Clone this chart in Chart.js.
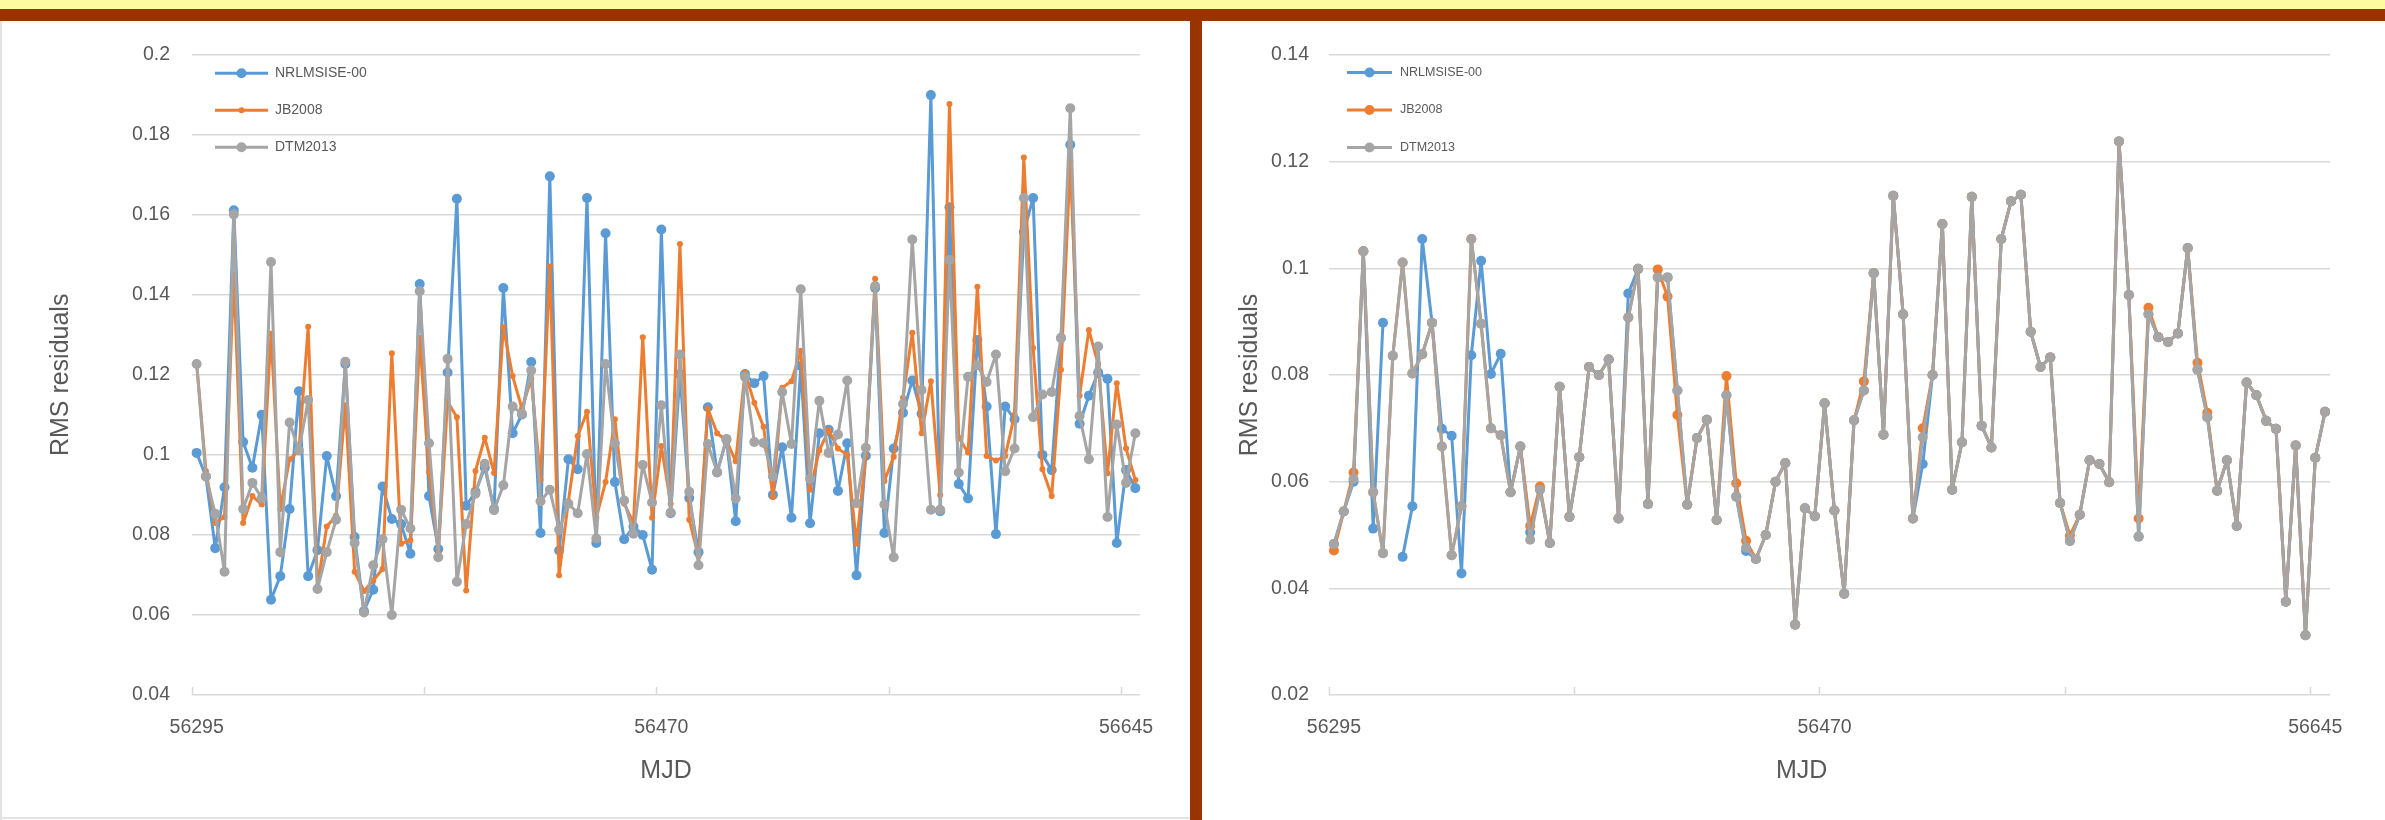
<!DOCTYPE html>
<html>
<head>
<meta charset="utf-8">
<title>RMS residuals vs MJD</title>
<script src="https://cdn.jsdelivr.net/npm/chart.js"></script>
<style>
  html, body { margin: 0; padding: 0; }
  body { width: 2385px; height: 820px; position: relative; overflow: hidden; background: #fff; }
  #topband { position: absolute; left: 0; top: 0; width: 2385px; height: 9px; background: #fdfc9f; }
  #brownbar { position: absolute; left: 0; top: 9px; width: 2385px; height: 12px; background: #993300; }
  #divider { position: absolute; left: 1190px; top: 9px; width: 12px; height: 811px; background: #993300; }
  .panel { position: absolute; top: 21px; height: 799px; }
  #leftPanel { left: 0; width: 1190px; }
  #rightPanel { left: 1202px; width: 1183px; }
  #leftEdge { position: absolute; left: 0; top: 21px; width: 2px; height: 799px; background: #e3e3e3; }
  #bottomEdge { position: absolute; left: 0; top: 817px; width: 1190px; height: 2px; background: #e3e3e3; }
</style>
</head>
<body>
<div id="topband"></div>
<div id="brownbar"></div>
<div id="divider"></div>
<div class="panel" id="leftPanel"><canvas id="leftChart" width="1190" height="799"></canvas></div>
<div class="panel" id="rightPanel"><canvas id="rightChart" width="1183" height="799"></canvas></div>
<div id="leftEdge"></div>
<div id="bottomEdge"></div>

<script>
// MJD categories (one every 3.5 days, labels shown every 50th)
var mjd = [56295, 56298.5, 56302, 56305.5, 56309, 56312.5, 56316, 56319.5, 56323, 56326.5,
  56330, 56333.5, 56337, 56340.5, 56344, 56347.5, 56351, 56354.5, 56358, 56361.5,
  56365, 56368.5, 56372, 56375.5, 56379, 56382.5, 56386, 56389.5, 56393, 56396.5,
  56400, 56403.5, 56407, 56410.5, 56414, 56417.5, 56421, 56424.5, 56428, 56431.5,
  56435, 56438.5, 56442, 56445.5, 56449, 56452.5, 56456, 56459.5, 56463, 56466.5,
  56470, 56473.5, 56477, 56480.5, 56484, 56487.5, 56491, 56494.5, 56498, 56501.5,
  56505, 56508.5, 56512, 56515.5, 56519, 56522.5, 56526, 56529.5, 56533, 56536.5,
  56540, 56543.5, 56547, 56550.5, 56554, 56557.5, 56561, 56564.5, 56568, 56571.5,
  56575, 56578.5, 56582, 56585.5, 56589, 56592.5, 56596, 56599.5, 56603, 56606.5,
  56610, 56613.5, 56617, 56620.5, 56624, 56627.5, 56631, 56634.5, 56638, 56641.5,
  56645, 56648.5];

// left panel
var leftNrl = [0.1005, 0.0946, 0.0767, 0.0919, 0.1611, 0.1032, 0.0968, 0.1100, 0.0638, 0.0697,
  0.0865, 0.1159, 0.0697, 0.0762, 0.0997, 0.0897, 0.1227, 0.0795, 0.0610, 0.0663,
  0.0921, 0.0840, 0.0827, 0.0753, 0.1427, 0.0897, 0.0765, 0.1206, 0.1640, 0.0873,
  0.0908, 0.0968, 0.0865, 0.1417, 0.1054, 0.1101, 0.1232, 0.0805, 0.1696, 0.0761,
  0.0989, 0.0964, 0.1642, 0.0780, 0.1554, 0.0932, 0.0789, 0.0821, 0.0800, 0.0713,
  0.1563, 0.0854, 0.1202, 0.0892, 0.0757, 0.1119, 0.0956, 0.1038, 0.0834, 0.1202,
  0.1179, 0.1197, 0.0900, 0.1019, 0.0843, 0.1222, 0.0829, 0.1054, 0.1063, 0.0910,
  0.1029, 0.0699, 0.0998, 0.1417, 0.0805, 0.1016, 0.1105, 0.1186, 0.1103, 0.1899,
  0.0859, 0.1619, 0.0927, 0.0891, 0.1287, 0.1121, 0.0802, 0.1121, 0.1089, 0.1557,
  0.1642, 0.1000, 0.0962, 0.1292, 0.1775, 0.1078, 0.1148, 0.1206, 0.1190, 0.0780,
  0.0962, 0.0917];
var leftJb = [0.1230, 0.0960, 0.0830, 0.0845, 0.1449, 0.0830, 0.0897, 0.0876, 0.1303, 0.0865,
  0.0989, 0.1010, 0.1320, 0.0672, 0.0821, 0.0848, 0.1124, 0.0708, 0.0660, 0.0686,
  0.0715, 0.1254, 0.0778, 0.0787, 0.1292, 0.0957, 0.0757, 0.1133, 0.1094, 0.0661,
  0.0960, 0.1043, 0.0955, 0.1319, 0.1197, 0.1116, 0.1190, 0.0938, 0.1471, 0.0699,
  0.0885, 0.1047, 0.1108, 0.0843, 0.0932, 0.1089, 0.0878, 0.0830, 0.1294, 0.0843,
  0.1022, 0.0878, 0.1527, 0.0838, 0.0746, 0.1116, 0.1054, 0.1036, 0.0984, 0.1206,
  0.1130, 0.1070, 0.0895, 0.1168, 0.1184, 0.1260, 0.0913, 0.1011, 0.1062, 0.1016,
  0.1000, 0.0778, 0.1000, 0.1440, 0.0935, 0.0995, 0.1143, 0.1305, 0.1054, 0.1184,
  0.0900, 0.1877, 0.1043, 0.1006, 0.1420, 0.0997, 0.0986, 0.0997, 0.1100, 0.1743,
  0.1267, 0.0964, 0.0897, 0.1213, 0.1733, 0.1148, 0.1312, 0.1227, 0.0954, 0.1179,
  0.1016, 0.0937];
var leftDtm = [0.1227, 0.0946, 0.0853, 0.0708, 0.1601, 0.0865, 0.0930, 0.0892, 0.1482, 0.0757,
  0.1081, 0.1011, 0.1137, 0.0665, 0.0757, 0.0838, 0.1233, 0.0780, 0.0606, 0.0724,
  0.0789, 0.0600, 0.0863, 0.0816, 0.1409, 0.1029, 0.0744, 0.1240, 0.0683, 0.0827,
  0.0903, 0.0978, 0.0862, 0.0924, 0.1121, 0.1103, 0.1211, 0.0884, 0.0913, 0.0813,
  0.0878, 0.0854, 0.1002, 0.0791, 0.1227, 0.1029, 0.0886, 0.0803, 0.0975, 0.0881,
  0.1124, 0.0856, 0.1251, 0.0908, 0.0724, 0.1027, 0.0957, 0.1040, 0.0891, 0.1195,
  0.1032, 0.1030, 0.0946, 0.1157, 0.1027, 0.1414, 0.0940, 0.1135, 0.1005, 0.1051,
  0.1186, 0.0879, 0.1018, 0.1422, 0.0876, 0.0744, 0.1127, 0.1538, 0.1162, 0.0863,
  0.0863, 0.1487, 0.0956, 0.1195, 0.1224, 0.1182, 0.1251, 0.0959, 0.1016, 0.1642,
  0.1094, 0.1151, 0.1157, 0.1292, 0.1866, 0.1097, 0.0989, 0.1271, 0.0845, 0.1076,
  0.0930, 0.1054];

// right panel
var rightNrl = [0.0483, 0.0544, 0.0600, 0.1032, 0.0512, 0.0898, null, 0.0459, 0.0554, 0.1055,
  0.0898, 0.0699, 0.0686, 0.0428, 0.0837, 0.1014, 0.0802, 0.0840, 0.0580, 0.0666,
  0.0505, 0.0585, 0.0485, 0.0778, 0.0534, 0.0646, 0.0815, 0.0800, 0.0829, 0.0531,
  0.0953, 0.0999, 0.0558, 0.0983, 0.0983, 0.0771, 0.0557, 0.0682, 0.0716, 0.0528,
  0.0762, 0.0572, 0.0470, 0.0455, 0.0500, 0.0600, 0.0635, 0.0332, 0.0550, 0.0535,
  0.0747, 0.0546, 0.0390, 0.0715, 0.0771, 0.0991, 0.0688, 0.1136, 0.0914, 0.0531,
  0.0633, 0.0800, 0.1083, 0.0585, 0.0674, 0.1134, 0.0705, 0.0664, 0.1055, 0.1126,
  0.1138, 0.0881, 0.0815, 0.0833, 0.0560, 0.0489, 0.0538, 0.0640, 0.0633, 0.0599,
  0.1238, 0.0950, 0.0497, 0.0914, 0.0871, 0.0862, 0.0878, 0.1038, 0.0810, 0.0721,
  0.0583, 0.0640, 0.0517, 0.0786, 0.0762, 0.0714, 0.0699, 0.0375, 0.0668, 0.0312,
  0.0645, 0.0731];
var rightJb = [0.0471, 0.0544, 0.0617, 0.1032, 0.0580, 0.0466, 0.0836, 0.1011, 0.0803, 0.0839,
  0.0898, 0.0666, 0.0462, 0.0554, 0.1055, 0.0896, 0.0700, 0.0687, 0.0580, 0.0666,
  0.0517, 0.0591, 0.0485, 0.0778, 0.0534, 0.0646, 0.0815, 0.0800, 0.0829, 0.0531,
  0.0908, 0.0999, 0.0558, 0.0998, 0.0947, 0.0725, 0.0557, 0.0682, 0.0716, 0.0528,
  0.0798, 0.0597, 0.0489, 0.0455, 0.0500, 0.0600, 0.0635, 0.0332, 0.0550, 0.0535,
  0.0747, 0.0546, 0.0390, 0.0715, 0.0788, 0.0991, 0.0688, 0.1136, 0.0914, 0.0531,
  0.0700, 0.0800, 0.1083, 0.0585, 0.0674, 0.1134, 0.0705, 0.0664, 0.1055, 0.1126,
  0.1138, 0.0881, 0.0815, 0.0833, 0.0560, 0.0499, 0.0538, 0.0640, 0.0633, 0.0599,
  0.1238, 0.0950, 0.0531, 0.0926, 0.0871, 0.0862, 0.0878, 0.1038, 0.0823, 0.0729,
  0.0583, 0.0640, 0.0517, 0.0786, 0.0762, 0.0714, 0.0699, 0.0375, 0.0668, 0.0312,
  0.0645, 0.0731];
var rightDtm = [0.0483, 0.0544, 0.0605, 0.1032, 0.0580, 0.0466, 0.0836, 0.1011, 0.0803, 0.0839,
  0.0898, 0.0666, 0.0462, 0.0554, 0.1055, 0.0896, 0.0700, 0.0687, 0.0580, 0.0666,
  0.0491, 0.0585, 0.0485, 0.0778, 0.0534, 0.0646, 0.0815, 0.0800, 0.0829, 0.0531,
  0.0908, 0.0999, 0.0558, 0.0983, 0.0983, 0.0771, 0.0557, 0.0682, 0.0716, 0.0528,
  0.0762, 0.0572, 0.0476, 0.0455, 0.0500, 0.0600, 0.0635, 0.0332, 0.0550, 0.0535,
  0.0747, 0.0546, 0.0390, 0.0715, 0.0771, 0.0991, 0.0688, 0.1136, 0.0914, 0.0531,
  0.0683, 0.0800, 0.1083, 0.0585, 0.0674, 0.1134, 0.0705, 0.0664, 0.1055, 0.1126,
  0.1138, 0.0881, 0.0815, 0.0833, 0.0560, 0.0489, 0.0538, 0.0640, 0.0633, 0.0599,
  0.1238, 0.0950, 0.0497, 0.0914, 0.0871, 0.0862, 0.0878, 0.1038, 0.0810, 0.0721,
  0.0583, 0.0640, 0.0517, 0.0786, 0.0762, 0.0714, 0.0699, 0.0375, 0.0668, 0.0312,
  0.0645, 0.0731];

var seriesNames = ['NRLMSISE-00', 'JB2008', 'DTM2013'];
var colors = ['#5b9bd5', '#ed7d31', '#a5a5a5'];
var textColor = '#595959';
var fontFamily = '"Liberation Sans", Arial, sans-serif';

// legend drawn inside the plot, top-left, like the Excel original
var insideLegend = {
    id: 'insideLegend',
    afterDraw: function (chart, args, opts) {
        var ctx = chart.ctx;
        var area = chart.chartArea;
        ctx.save();
        ctx.font = opts.fontSize + 'px ' + fontFamily;
        ctx.textBaseline = 'middle';
        chart.data.datasets.forEach(function (ds, i) {
            var y = area.top + opts.top + i * opts.rowGap;
            var x0 = area.left + opts.left;
            ctx.strokeStyle = ds.borderColor;
            ctx.lineWidth = 3;
            ctx.beginPath();
            ctx.moveTo(x0, y);
            ctx.lineTo(x0 + opts.lineLen, y);
            ctx.stroke();
            ctx.fillStyle = ds.borderColor;
            ctx.beginPath();
            ctx.arc(x0 + opts.lineLen / 2, y, ds.pointRadius, 0, 2 * Math.PI);
            ctx.fill();
            ctx.fillStyle = textColor;
            ctx.fillText(ds.label, x0 + opts.lineLen + opts.gap, y);
        });
        ctx.restore();
    }
};

function series(i, data, radius) {
    return {
        label: seriesNames[i],
        data: data,
        borderColor: colors[i],
        backgroundColor: colors[i],
        borderWidth: 3,
        borderJoinStyle: 'round',
        borderCapStyle: 'round',
        pointRadius: radius,
        pointHoverRadius: radius,
        pointBorderWidth: 0,
        tension: 0,
        spanGaps: false,
        order: 3 - i
    };
}

function makeChart(id, datasets, p) {
    var ctx = document.getElementById(id).getContext('2d');
    return new Chart(ctx, {
        type: 'line',
        data: { labels: mjd, datasets: datasets },
        plugins: [insideLegend],
        options: {
            responsive: false,
            animation: false,
            devicePixelRatio: 1,
            layout: { padding: { top: p.top, right: p.right, left: 0, bottom: 0 } },
            plugins: {
                legend: { display: false },
                tooltip: { enabled: false },
                insideLegend: p.legend
            },
            scales: {
                x: {
                    type: 'category',
                    offset: true,
                    grid: {
                        offset: true,
                        drawOnChartArea: false,
                        drawTicks: true,
                        tickLength: -8,
                        tickWidth: 1.5,
                        tickColor: function (c) {
                            return (c.index !== undefined && c.index % 25 === 0) ? '#d9d9d9' : 'rgba(0,0,0,0)';
                        }
                    },
                    border: { display: false },
                    ticks: {
                        autoSkip: false,
                        maxRotation: 0,
                        padding: 29,
                        color: textColor,
                        font: { family: fontFamily, size: 19.5 },
                        callback: function (v, i) { return i % 50 === 0 ? String(this.getLabelForValue(v)) : ''; }
                    },
                    title: {
                        display: true, text: p.xTitle, color: textColor,
                        font: { family: fontFamily, size: 25 },
                        padding: { top: 0, bottom: 34 }
                    },
                    afterFit: function (s) { s.height = 125; }
                },
                y: {
                    min: p.ymin,
                    max: p.ymax,
                    ticks: {
                        stepSize: 0.02,
                        padding: p.tickPad,
                        color: textColor,
                        font: { family: fontFamily, size: 19.5 },
                        callback: function (v) { return String(+v.toFixed(2)); }
                    },
                    grid: { color: '#d9d9d9', lineWidth: 1.5, drawTicks: false },
                    border: { display: false },
                    title: {
                        display: true, text: 'RMS residuals', color: textColor,
                        font: { family: fontFamily, size: 25 },
                        padding: { top: p.titlePad, bottom: 0 }
                    },
                    afterFit: function (s) { s.width = p.yWidth; }
                }
            }
        }
    });
}

makeChart('leftChart', [
    series(0, leftNrl, 5),
    series(1, leftJb, 3),
    series(2, leftDtm, 5)
], {
    top: 33, right: 50, yWidth: 192, ymin: 0.04, ymax: 0.2, tickPad: 22, titlePad: 46,
    xTitle: 'MJD',
    legend: { left: 23, top: 18.5, rowGap: 37, lineLen: 53, gap: 7, fontSize: 14 }
});

// the right panel's axis title sits a little left of the plot centre
makeChart('rightChart', [
    series(0, rightNrl, 5),
    series(1, rightJb, 5),
    series(2, rightDtm, 5)
], {
    top: 34, right: 55, yWidth: 127, ymin: 0.02, ymax: 0.14, tickPad: 20, titlePad: 33,
    xTitle: 'MJD        ',
    legend: { left: 18, top: 17.5, rowGap: 37.5, lineLen: 45, gap: 8, fontSize: 12.5 }
});
</script>
</body>
</html>
